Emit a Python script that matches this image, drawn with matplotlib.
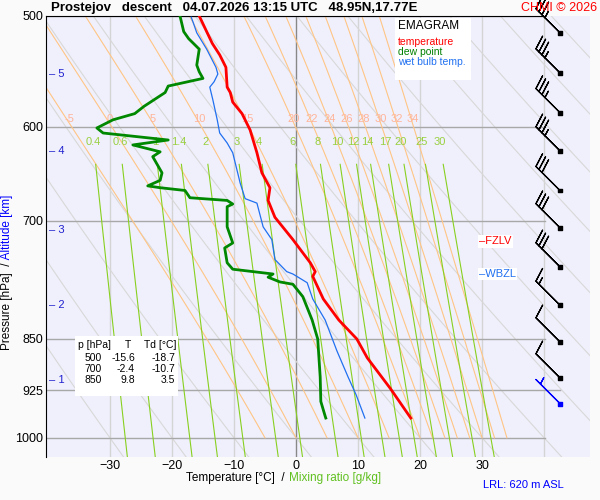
import numpy as np
import matplotlib.pyplot as plt

plt.rcParams['font.family'] = ['Liberation Sans', 'DejaVu Sans']

# sounding values (p [hPa], T [C])
temp_p = [500, 523, 533, 544, 562, 567, 576, 587, 603, 626, 647, 663, 677, 696, 722, 750, 761, 767, 796, 824, 850, 877, 922, 968]
temp_t = [-15.6, -13.5, -12.3, -11.3, -11.1, -10.6, -10.2, -8.7, -7.4, -6.3, -5.5, -4.2, -4.5, -3.4, -0.5, 2.3, 3.1, 2.7, 4.4, 6.9, 9.8, 11.5, 15.2, 18.5]
dew_p = [500, 513, 519, 528, 542, 548, 554, 561, 567, 580, 587, 593, 601, 606, 613, 618, 625, 630, 647, 655, 661, 663, 666, 674,
         677, 681, 684, 707, 726, 732, 750, 758, 764, 768, 774, 777, 793, 824, 850, 905, 942, 965, 968]
dew_t = [-18.7, -18.1, -17.3, -15.6, -16.0, -15.6, -15.0, -20.6, -21.1, -24.5, -26.0, -29.5, -32.1, -31.1, -20.6, -26.3, -21.9, -23.1, -21.6, -21.9, -23.9, -21.9, -17.9, -17.1,
         -11.1, -10.2, -11.1, -11.1, -10.2, -11.5, -11.1, -10.2, -3.7, -4.5, -2.6, -0.5, 1.1, 2.6, 3.5, 3.9, 4.0, 4.7, 4.8]
wet_p = [501, 505, 514, 528, 544, 550, 557, 562, 574, 593, 606, 616, 626, 658, 675, 680, 707, 722, 746, 761, 764, 775, 796, 824, 867, 905, 932, 968]
wet_t = [-16.9, -16.6, -16.0, -14.4, -12.9, -12.6, -13.2, -13.9, -13.4, -12.7, -12.3, -11.1, -10.2, -9.0, -8.2, -6.3, -5.3, -3.9, -3.4, -1.5, -0.5, 1.8, 2.7, 4.7, 6.6, 8.4, 9.7, 11.1]

wind_p = [514, 549, 586, 624, 666, 708, 755, 804, 854, 906, 945]
wind_kt = [35, 35, 35, 35, 30, 30, 30, 15, 10, 10, 5]

levels = [500, 600, 700, 850, 925, 1000]
theta_w = [-5, 0, 5, 10, 15, 20, 22, 24, 26, 28, 30, 32, 34]
mix_r = [0.4, 0.6, 1, 1.4, 2, 3, 4, 6, 8, 10, 12, 14, 17, 20, 25, 30]
table = [('500', '-15.6', '-18.7'), ('700', '-2.4', '-10.7'), ('850', '9.8', '3.5')]

fig = plt.figure(figsize=(6, 5), dpi=100, facecolor='#fafafa')
ax = plt.axes([0.0767, 0.086, 0.9067, 0.882], facecolor='#f0f0fc')
plt.yscale('log')
plt.ylim(1032, 500)
plt.xlim(-40.3, 47.4)

thin = dict(linewidth=0.8, clip_on=True)

# isotherms and isobars
for t in range(-30, 41, 10):
    plt.plot([t, t], [500, 1032], color='#888888' if t == 0 else '#d4d4d4', linewidth=1.0, zorder=1)
for p in levels:
    plt.plot([-40.3, 40.2 if p != 925 else 42.6], [p, p], color='#a8a8a8', linewidth=1.0, zorder=2)

pp = np.linspace(1032, 440, 200)
# dry adiabats
for th in range(-30, 121, 10):
    plt.plot((th + 273.15) * (pp / 1000.0) ** 0.2857 - 273.15, pp, color='#d8d8d8', zorder=1, **thin)

# moist adiabats
for tw in theta_w:
    t = tw + 273.15
    p = 1000.0
    ps, ts = [p], [t]
    while p > 440:
        es = 6.112 * np.exp(17.67 * (t - 273.15) / (t - 29.65))
        rs = 0.622 * es / (p - es)
        dtdp = (287.0 * t + 2.5e6 * rs) / (1004.0 + 2.5e6 ** 2 * rs * 0.622 / (287.0 * t * t)) / p
        p -= 2.0
        t -= 2.0 * dtdp
        ps.append(p)
        ts.append(t)
    ts = np.array(ts) - 273.15
    plt.plot(ts, ps, color='#ffc585', zorder=2, **thin)
    plt.text(np.interp(596, ps[::-1], ts[::-1]), 597, str(tw), color='#ffb49a', fontsize=8, ha='center', va='bottom')

# mixing ratio lines
pm = np.linspace(638, 1032, 50)
for w in mix_r:
    e = w * pm / (622.0 + w)
    td = 243.5 * np.log(e / 6.112) / (17.67 - np.log(e / 6.112))
    plt.plot(td, pm, color='#88d020', zorder=2, **thin)
    e0 = w * 616 / (622.0 + w)
    plt.text(243.5 * np.log(e0 / 6.112) / (17.67 - np.log(e0 / 6.112)), 620, str(w), color='#99d040', fontsize=8, ha='center', va='bottom')

plt.plot(wet_t, wet_p, color='#2070f0', linewidth=0.9, zorder=4)
plt.plot(dew_t, dew_p, color='#008800', linewidth=2, zorder=5)
plt.plot(temp_t, temp_p, color='#ff0000', linewidth=2, zorder=6)

# altitude marks
for km, p in zip([5, 4, 3, 2, 1], [550, 624, 711, 804, 910]):
    plt.text(-39.8, p, '– ' + str(km), color='#2020d0', fontsize=8, va='center')

lab = dict(fontsize=8, va='center', bbox=dict(facecolor='white', edgecolor='none', pad=1))
plt.text(29.5, 724, '–FZLV', color='red', **lab)
plt.text(29.5, 764, '–WBZL', color='#2070f0', **lab)

plt.yticks(levels, [str(p) for p in levels], fontsize=9)
plt.minorticks_off()
plt.xticks(range(-30, 31, 10), fontsize=9)
plt.tick_params(length=0, pad=2)
for s in ['right', 'bottom']:
    ax.spines[s].set_visible(False)
ax.spines['top'].set_bounds(-40.3, 40.2)

# overlay in pixels: boxes and wind barbs
bx = fig.add_axes([0, 0, 1, 1], facecolor='none')
bx.set_xlim(0, 600)
bx.set_ylim(500, 0)
bx.axis('off')

bx.add_patch(plt.Rectangle((395, 18), 76, 62, facecolor='white', edgecolor='none'))
bx.text(398, 26, 'EMAGRAM', fontsize=8.5, va='center')
bx.text(398, 42, 'temperature', color='red', fontsize=7.5, va='center')
bx.text(398, 52, 'dew point', color='green', fontsize=7.5, va='center')
bx.text(398, 62, 'wet bulb temp.', color='#2070f0', fontsize=7.5, va='center')

bx.add_patch(plt.Rectangle((75, 336), 103, 60, facecolor='white', edgecolor='none'))
bx.text(78, 345, 'p [hPa]', fontsize=7.5, va='center')
bx.text(128, 345, 'T', fontsize=7.5, va='center', ha='center')
bx.text(144, 345, 'Td [°C]', fontsize=7.5, va='center')
for row, vals in enumerate(table):
    for x, s in zip([102, 135, 175], vals):
        bx.text(x, 358 + 11 * row, s, fontsize=7.5, va='center', ha='right')

by = [16 + 608.8 * np.log(p / 500.0) for p in wind_p]
u = [k * 0.7071 for k in wind_kt]
v = [-k * 0.7071 for k in wind_kt]
cols = ['black'] * (len(wind_p) - 1) + ['blue']
bx.barbs([560] * len(wind_p), by, u, v, color=cols, length=7, linewidth=0.9, zorder=7)
bx.scatter([560] * len(wind_p), by, s=8, marker='s', c=cols, zorder=7)

fig.text(0.085, 0.972, 'Prostejov   descent   04.07.2026 13:15 UTC   48.95N,17.77E', fontsize=9.5, fontweight='bold', va='bottom')
fig.text(0.995, 0.972, 'CHMI © 2026', color='red', fontsize=9, ha='right', va='bottom')
fig.text(0.475, 0.043, 'Temperature [°C]  /', fontsize=8.5, ha='right', va='center')
fig.text(0.482, 0.043, 'Mixing ratio [g/kg]', color='#60c020', fontsize=8.5, va='center')
fig.text(0.805, 0.025, 'LRL: 620 m ASL', color='blue', fontsize=8)
fig.text(0.012, 0.475, 'Pressure [hPa]  /', fontsize=8.5, rotation=90, ha='center', va='top')
fig.text(0.012, 0.475, ' Altitude [km]', color='blue', fontsize=8.5, rotation=90, ha='center', va='bottom')

plt.savefig('out.png', dpi=100, facecolor=fig.get_facecolor())
